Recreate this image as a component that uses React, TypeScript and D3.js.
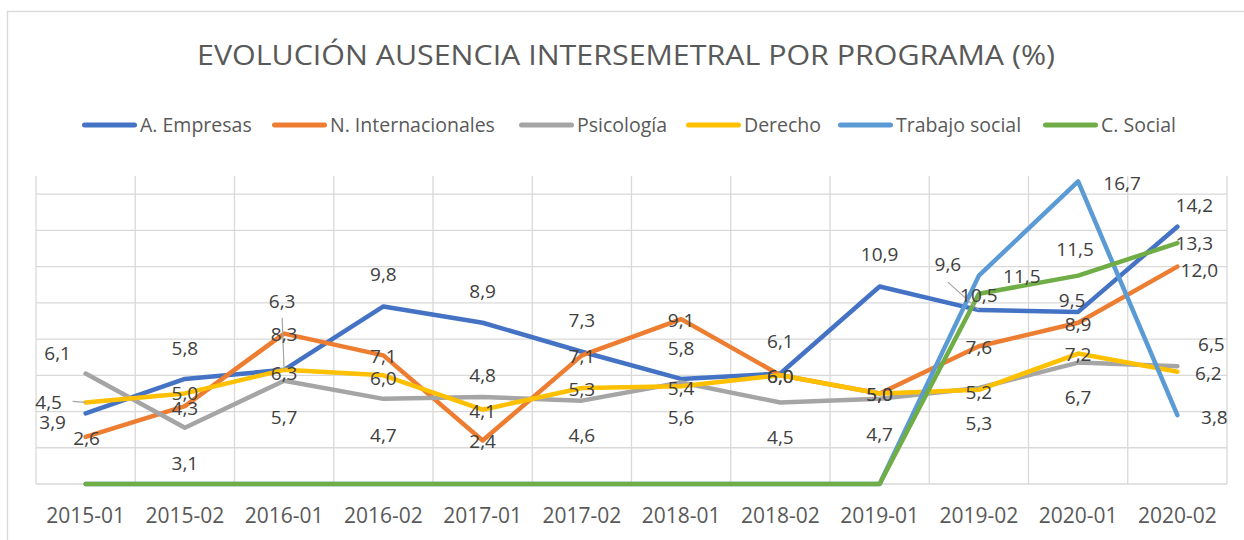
import React from 'react';
import * as d3 from 'd3';

const periods = [
  '2015-01', '2015-02', '2016-01', '2016-02', '2017-01', '2017-02',
  '2018-01', '2018-02', '2019-01', '2019-02', '2020-01', '2020-02',
];

const seriesNames = ['A. Empresas', 'N. Internacionales', 'Psicología', 'Derecho', 'Trabajo social', 'C. Social'];
const seriesColors = ['#4472C4', '#ED7D31', '#A5A5A5', '#FFC000', '#5B9BD5', '#70AD47'];

const empresas = [3.9, 5.8, 6.3, 9.8, 8.9, 7.3, 5.8, 6.1, 10.9, 9.6, 9.5, 14.2];
const internacionales = [2.6, 4.3, 8.3, 7.1, 2.4, 7.1, 9.1, 6.0, 5.0, 7.6, 8.9, 12.0];
const psicologia = [6.1, 3.1, 5.7, 4.7, 4.8, 4.6, 5.6, 4.5, 4.7, 5.3, 6.7, 6.5];
const derecho = [4.5, 5.0, 6.3, 6.0, 4.1, 5.3, 5.4, 6.0, 5.0, 5.2, 7.2, 6.2];
const trabajoSocial = [0, 0, 0, 0, 0, 0, 0, 0, 0, 11.5, 16.7, 3.8];
const cSocial = [0, 0, 0, 0, 0, 0, 0, 0, 0, 10.5, 11.5, 13.3];

const seriesValues = [empresas, internacionales, psicologia, derecho, trabajoSocial, cSocial];

// which points carry a data label (zeros were hidden in the original)
const labelShown = (v: number) => v > 0;

// label placement in px, relative to each point (the chart's labels were dragged around by hand)
type Off = [number, number];
const labelOffsets: Off[][] = [
  [[-33, 9], [0, -31], [-2, -69], [0, -32], [0, -32], [0, -32], [0, -31], [0, -32], [0, -32], [-31, -46], [-6, -12], [17, -22]],
  [[1, 1], [0, 2], [0, 1], [0, 1], [0, 1], [0, 1], [0, 1], [0, 1], [0, 1], [0, 1], [0, 1], [22, 4]],
  [[-28, -20], [0, 35], [0, 36], [0, 36], [0, -22], [0, 35], [0, 35], [0, 35], [0, 35], [0, 35], [0, 35], [34, -22]],
  [[-37, 0], [0, 0], [0, 3], [0, 3], [0, 1], [0, 1], [0, 2], [0, 1], [0, 1], [0, 2], [0, 1], [31, 1]],
  [[0, 0], [0, 0], [0, 0], [0, 0], [0, 0], [0, 0], [0, 0], [0, 0], [0, 0], [43, 1], [44, 2], [37, 2]],
  [[0, 0], [0, 0], [0, 0], [0, 0], [0, 0], [0, 0], [0, 0], [0, 0], [0, 0], [0, 1], [-3, -26], [17, 0]],
];

// leader lines: series, point, start offset
const leaders: [number, number, number, number][] = [
  [3, 0, -13, -1],
  [0, 2, -2, -52],
  [0, 9, -31, -28],
];

const legendStarts = [82, 272, 519, 686, 838, 1043];

const W = 1244;
const H = 540;
const margin = { top: 176, right: 17, bottom: 56, left: 36 };
const font = "'Open Sans', sans-serif";

const App: React.FC = () => {
  const x = d3.scaleBand<string>().domain(periods).range([margin.left, W - margin.right]).padding(0);
  const cx = (p: string) => (x(p) ?? 0) + x.bandwidth() / 2;
  const y = d3.scaleLinear().domain([0, 17]).range([H - margin.bottom, margin.top]);
  const yTicks = d3.range(2, 17, 2);

  const line = d3.line<number>()
    .x((_, i) => cx(periods[i]))
    .y(d => y(d));

  return (
    <div style={{ position: 'absolute', left: 0, top: 0 }}>
      <svg width={W} height={H} style={{ display: 'block', background: '#fff' }}>
        <rect x={7.5} y={11.5} width={W + 10} height={H + 10} fill="#fff" stroke="#d9d9d9" strokeWidth={1.3} />

        <text x={626} y={65} textAnchor="middle" fontFamily={font} fontSize={27.5} fill="#595959"
          textLength={858} lengthAdjust="spacingAndGlyphs">
          EVOLUCIÓN AUSENCIA INTERSEMETRAL POR PROGRAMA (%)
        </text>

        {/* legend */}
        {seriesNames.map((name, i) => (
          <g key={name} transform={`translate(${legendStarts[i]},125)`}>
            <line x1={2.5} x2={52.5} y1={0} y2={0} stroke={seriesColors[i]} strokeWidth={5} strokeLinecap="round" />
            <text x={58} y={0} dy="0.36em" fontFamily={font} fontSize={19.5} fill="#595959">{name}</text>
          </g>
        ))}

        {/* grid */}
        {yTicks.map(t => (
          <line key={t} x1={margin.left} x2={W - margin.right} y1={y(t)} y2={y(t)} stroke="#d9d9d9" strokeWidth={1.3} />
        ))}
        {periods.map(p => (
          <line key={p} x1={x(p)} x2={x(p)} y1={y(17)} y2={y(0)} stroke="#d9d9d9" strokeWidth={1.3} />
        ))}
        <line x1={W - margin.right} x2={W - margin.right} y1={y(17)} y2={y(0)} stroke="#d9d9d9" strokeWidth={1.3} />
        <line x1={margin.left} x2={W - margin.right} y1={y(0)} y2={y(0)} stroke="#d9d9d9" strokeWidth={1.3} />

        {/* x labels */}
        {periods.map(p => (
          <text key={p} x={cx(p)} y={y(0) + 31} dy="0.36em" textAnchor="middle" fontFamily={font} fontSize={21} fill="#595959">{p}</text>
        ))}

        {/* series */}
        {seriesValues.map((vals, s) => (
          <path key={s} d={line(vals) ?? ''} fill="none" stroke={seriesColors[s]} strokeWidth={4.5}
            strokeLinejoin="round" strokeLinecap="round" />
        ))}

        {/* leader lines */}
        {leaders.map(([s, i, dx, dy], k) => {
          const px = cx(periods[i]);
          const py = y(seriesValues[s][i]);
          return <line key={k} x1={px + dx} y1={py + dy} x2={px} y2={py} stroke="#a6a6a6" strokeWidth={1.2} />;
        })}

        {/* data labels */}
        {seriesValues.map((vals, s) => vals.map((v, i) => labelShown(v) ? (
          <text key={`${s}-${i}`} x={cx(periods[i]) + labelOffsets[s][i][0]} y={y(v) + labelOffsets[s][i][1]}
            dy="0.36em" textAnchor="middle" fontFamily={font} fontSize={19} fill="#404040">
            {d3.format('.1f')(v).replace('.', ',')}
          </text>
        ) : null))}
      </svg>
    </div>
  );
};

export default App;
